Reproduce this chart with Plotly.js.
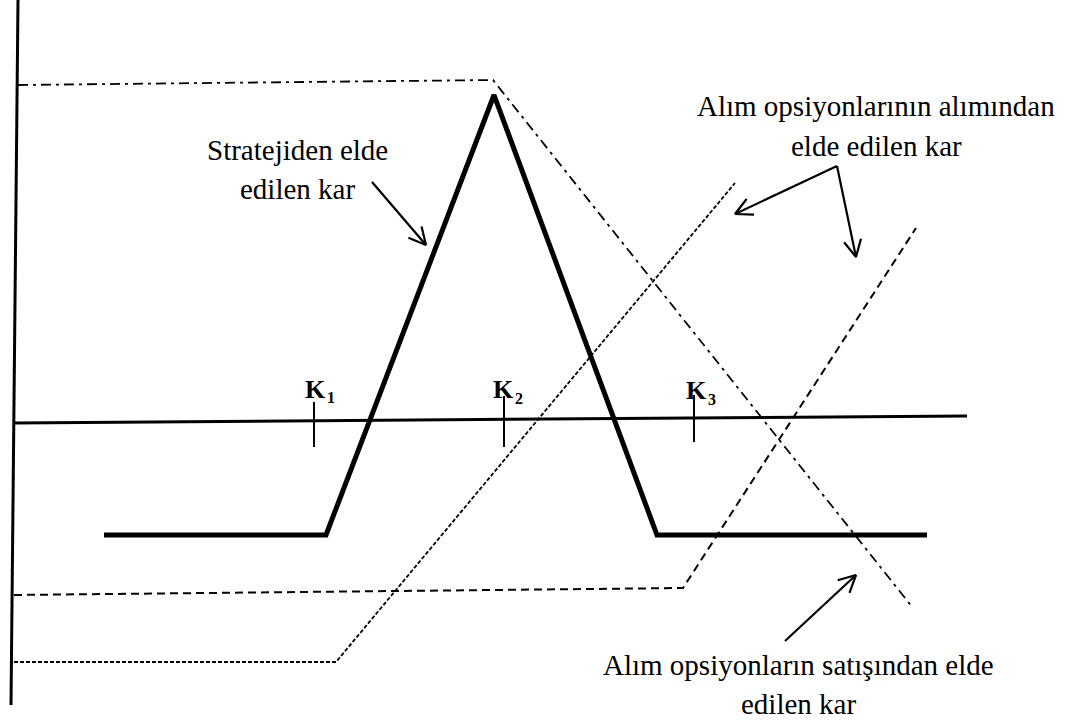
<!DOCTYPE html>
<html>
<head>
<meta charset="utf-8">
<script src="https://cdn.plot.ly/plotly-3.0.1.min.js"></script>
<style>
  html, body { margin: 0; padding: 0; background: #ffffff; }
  #chart { width: 1072px; height: 724px; }
</style>
</head>
<body>
<div id="chart"></div>
<script>
// Schematic payoff diagram (butterfly spread), values in its own drawing units
// Vertical (profit) axis
const profitAxisX = [18, 11];
const profitAxisY = [0, 705];
// Horizontal (price) axis
const priceAxisX = [14, 967];
const priceAxisY = [423, 416];
// Strike labels and their tick marks
const strikeNames = ['K', 'K', 'K'];
const strikeSubs = ['1', '2', '3'];
const strikeX = [314, 504, 694];
const strikeTickTop = [402, 396, 395];
const strikeTickBottom = [447, 447, 442];
const strikeLabelX = [315, 503, 696];
const strikeLabelY = [389, 389, 390];
const strikeSubX = [331, 519, 712];
const strikeSubY = [397, 398, 399];
// Profit from the strategy (thick line)
const strategyX = [104, 326, 494, 657, 927];
const strategyY = [535, 535, 95, 535, 535];
// Profit from buying call at K1 (fine dashes)
const longCallK1X = [14, 336, 735];
const longCallK1Y = [662, 662, 183];
// Profit from buying call at K3 (medium dashes)
const longCallK3X = [14, 683, 916];
const longCallK3Y = [595, 588, 228];
// Profit from selling two calls at K2 (dash-dot)
const shortCallsX = [18, 493, 913];
const shortCallsY = [85, 80, 608];

// Text labels
const labelTexts = ['Stratejiden elde', 'edilen kar',
  'Alım opsiyonlarının alımından', 'elde edilen kar',
  'Alım opsiyonların satışından elde', 'edilen kar'];
const labelX = [297, 297, 876, 876, 798, 798];
const labelY = [150, 189, 106, 146, 665, 704];

// Arrows: tail -> tip
const arrowTailX = [372, 837, 837, 785];
const arrowTailY = [182, 166, 166, 641];
const arrowTipX = [426, 735, 856, 856];
const arrowTipY = [245, 214, 257, 575];

const black = '#000000';
const serif = 'Liberation Serif';
function line(x, y, width, dash) {
  return { type: 'scatter', mode: 'lines', x: x, y: y, hoverinfo: 'skip',
           line: { color: black, width: width, dash: dash || 'solid' }, showlegend: false };
}

const tickX = [], tickY = [];
strikeX.forEach((x, i) => { tickX.push(x, x, null); tickY.push(strikeTickTop[i], strikeTickBottom[i], null); });

// arrows drawn as open V heads (axes are 1 unit = 1 px)
const arrX = [], arrY = [];
const headLen = 19, headAng = 27 * Math.PI / 180;
arrowTipX.forEach((tx, i) => {
  const ty = arrowTipY[i], sx = arrowTailX[i], sy = arrowTailY[i];
  const a = Math.atan2(sy - ty, sx - tx);
  arrX.push(sx, tx, null);
  arrY.push(sy, ty, null);
  arrX.push(tx + headLen * Math.cos(a + headAng), tx, tx + headLen * Math.cos(a - headAng), null);
  arrY.push(ty + headLen * Math.sin(a + headAng), ty, ty + headLen * Math.sin(a - headAng), null);
});

const traces = [
  line(profitAxisX, profitAxisY, 3),
  line(priceAxisX, priceAxisY, 3),
  line(tickX, tickY, 2),
  line(shortCallsX, shortCallsY, 1.8, '10px,5px,3px,5px'),
  line(longCallK1X, longCallK1Y, 1.8, '4px,2px'),
  line(longCallK3X, longCallK3Y, 2, '8px,5px'),
  line(strategyX, strategyY, 5),
  line(arrX, arrY, 2.2)
];

const annotations = [];
labelTexts.forEach((t, i) => {
  annotations.push({ x: labelX[i], y: labelY[i], xref: 'x', yref: 'y', text: t, showarrow: false,
    xanchor: 'center', yanchor: 'middle',
    font: { family: serif, size: 29, color: black } });
});
strikeNames.forEach((t, i) => {
  annotations.push({ x: strikeLabelX[i], y: strikeLabelY[i], xref: 'x', yref: 'y', text: t,
    showarrow: false, xanchor: 'center', yanchor: 'middle',
    font: { family: serif, size: 26, weight: 'bold', color: black } });
  annotations.push({ x: strikeSubX[i], y: strikeSubY[i], xref: 'x', yref: 'y', text: strikeSubs[i],
    showarrow: false, xanchor: 'center', yanchor: 'middle',
    font: { family: serif, size: 16, weight: 'bold', color: black } });
});

const layout = {
  width: 1072, height: 724,
  margin: { l: 0, r: 0, t: 0, b: 0, pad: 0 },
  paper_bgcolor: '#ffffff', plot_bgcolor: '#ffffff',
  showlegend: false,
  xaxis: { range: [0, 1072], visible: false, fixedrange: true },
  yaxis: { range: [724, 0], visible: false, fixedrange: true },
  annotations: annotations
};

Plotly.newPlot('chart', traces, layout, { staticPlot: true, displayModeBar: false });
</script>
</body>
</html>
